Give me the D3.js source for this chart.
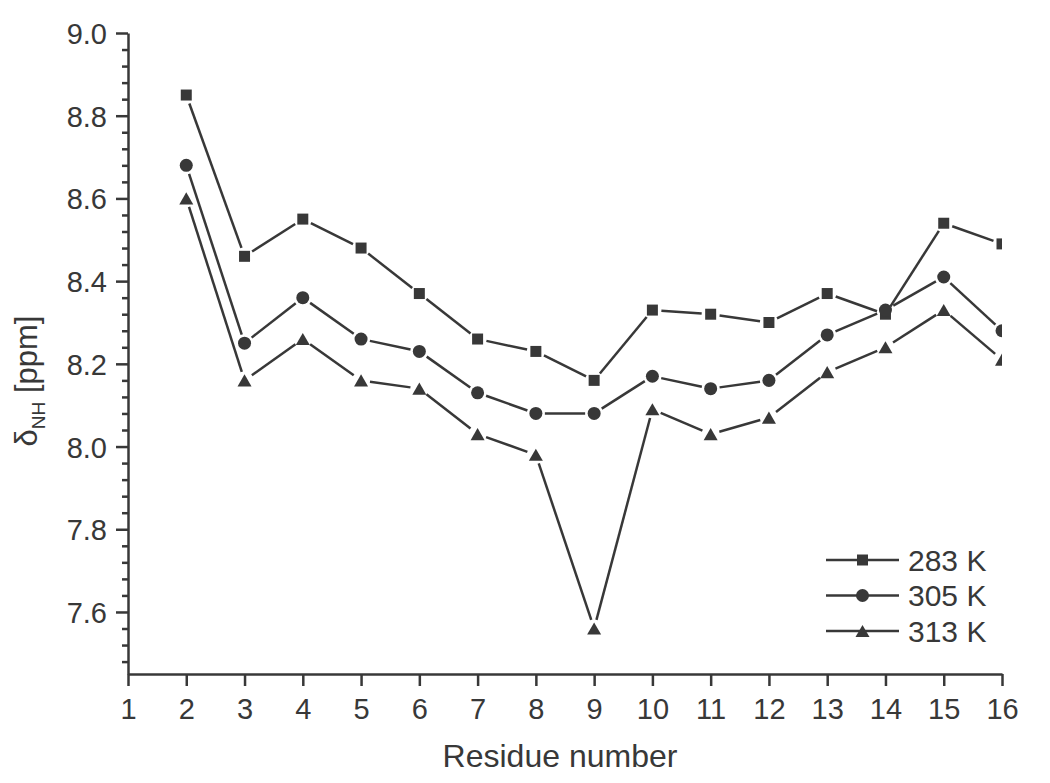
<!DOCTYPE html>
<html>
<head>
<meta charset="utf-8">
<script src="https://cdn.jsdelivr.net/npm/d3@7"></script>
<style>
  body { margin: 0; background: #fff; }
  svg { display: block; font-family: "Liberation Sans", Arial, sans-serif; }
</style>
</head>
<body>
<div id="chart"></div>
<script>
// residue numbers and chemical shifts (ppm) at three temperatures
const residues = [2, 3, 4, 5, 6, 7, 8, 9, 10, 11, 12, 13, 14, 15, 16];
const shift283 = [8.85, 8.46, 8.55, 8.48, 8.37, 8.26, 8.23, 8.16, 8.33, 8.32, 8.30, 8.37, 8.32, 8.54, 8.49];
const shift305 = [8.68, 8.25, 8.36, 8.26, 8.23, 8.13, 8.08, 8.08, 8.17, 8.14, 8.16, 8.27, 8.33, 8.41, 8.28];
const shift313 = [8.60, 8.16, 8.26, 8.16, 8.14, 8.03, 7.98, 7.56, 8.09, 8.03, 8.07, 8.18, 8.24, 8.33, 8.21];
const seriesNames = ["283 K", "305 K", "313 K"];
const xTicks = [1, 2, 3, 4, 5, 6, 7, 8, 9, 10, 11, 12, 13, 14, 15, 16];
const yTicks = [7.6, 7.8, 8.0, 8.2, 8.4, 8.6, 8.8, 9.0];

const ink = "#383838";
const margin = { top: 33, right: 48, bottom: 109, left: 128 };
const width = 1050 - margin.left - margin.right;
const height = 783 - margin.top - margin.bottom;

const x = d3.scaleLinear().domain([1, 16]).range([0, width]);
const y = d3.scaleLinear().domain([7.45, 9.0]).range([height, 0]);

const svg = d3.select("#chart")
  .append("svg")
  .attr("width", 1050)
  .attr("height", 783)
  .append("g")
  .attr("transform", "translate(" + margin.left + "," + margin.top + ")");

svg.append("clipPath")
  .attr("id", "plotclip")
  .append("rect")
  .attr("x", 0)
  .attr("y", -20)
  .attr("width", width)
  .attr("height", height + 20);

// minor y ticks every 0.04
const minorY = d3.range(7.48, 9.0, 0.04).filter(v => Math.abs(Math.round(v * 5) - v * 5) > 0.01);

const yMinor = svg.append("g")
  .call(d3.axisLeft(y).tickValues(minorY).tickSize(6).tickFormat(""));
yMinor.select(".domain").remove();
yMinor.selectAll("line").attr("stroke", ink).attr("stroke-width", 2.5);

const yAxis = svg.append("g")
  .call(d3.axisLeft(y).tickValues(yTicks).tickSize(12).tickSizeOuter(0).tickPadding(9).tickFormat(d3.format(".1f")));
yAxis.select(".domain").attr("stroke", ink).attr("stroke-width", 2.5);
yAxis.selectAll("line").attr("stroke", ink).attr("stroke-width", 2.5);
yAxis.selectAll("text")
  .attr("fill", ink)
  .style("font-size", "29px")
  .attr("dy", "0.36em");

const xAxis = svg.append("g")
  .attr("transform", "translate(0," + height + ")")
  .call(d3.axisBottom(x).tickValues(xTicks).tickSize(12).tickSizeOuter(0).tickPadding(9).tickFormat(d3.format("d")));
xAxis.select(".domain").attr("stroke", ink).attr("stroke-width", 2.5);
xAxis.selectAll("line").attr("stroke", ink).attr("stroke-width", 2.5);
xAxis.selectAll("text")
  .attr("fill", ink)
  .style("font-size", "29px")
  .attr("dy", "0.82em");

svg.append("text")
  .attr("x", width / 2 - 5)
  .attr("y", height + 93)
  .attr("text-anchor", "middle")
  .attr("fill", ink)
  .style("font-size", "32px")
  .text("Residue number");

const yTitle = svg.append("text")
  .attr("transform", "translate(" + (37 - margin.left) + "," + 348 + ") rotate(-90)")
  .attr("text-anchor", "middle")
  .attr("fill", ink)
  .style("font-size", "31px");
yTitle.append("tspan").text("δ");
yTitle.append("tspan").attr("dy", 8).style("font-size", "19px").text("NH");
yTitle.append("tspan").attr("dy", -8).text(" [ppm]");

const symbols = [
  d3.symbol().type(d3.symbolSquare).size(121),
  d3.symbol().type(d3.symbolCircle).size(133),
  d3.symbol().type(d3.symbolTriangle).size(85)
];
const symbolShift = [0, 0, 2];

const series = [shift283, shift305, shift313].map((vals, i) => ({
  name: seriesNames[i],
  points: residues.map((r, j) => ({ r: r, v: vals[j] }))
}));

const plot = svg.append("g").attr("clip-path", "url(#plotclip)");
const gap = 9;

series.forEach((s, i) => {
  const segs = d3.pairs(s.points).map(([a, b]) => {
    const x0 = x(a.r), y0 = y(a.v), x1 = x(b.r), y1 = y(b.v);
    const len = Math.hypot(x1 - x0, y1 - y0);
    const ux = (x1 - x0) / len, uy = (y1 - y0) / len;
    return { x0: x0 + ux * gap, y0: y0 + uy * gap, x1: x1 - ux * gap, y1: y1 - uy * gap };
  });

  plot.selectAll(".seg" + i)
    .data(segs)
    .enter()
    .append("line")
    .attr("x1", d => d.x0)
    .attr("y1", d => d.y0)
    .attr("x2", d => d.x1)
    .attr("y2", d => d.y1)
    .attr("stroke", ink)
    .attr("stroke-width", 2.5);

  plot.selectAll(".mark" + i)
    .data(s.points)
    .enter()
    .append("path")
    .attr("d", symbols[i]())
    .attr("transform", d => "translate(" + x(d.r) + "," + (y(d.v) + symbolShift[i]) + ")")
    .attr("fill", ink);
});

// legend
const legend = svg.append("g").attr("transform", "translate(" + (826 - margin.left) + "," + (560 - margin.top) + ")");
series.forEach((s, i) => {
  const row = legend.append("g").attr("transform", "translate(0," + i * 35.5 + ")");
  row.append("line")
    .attr("x1", 0)
    .attr("x2", 73)
    .attr("stroke", ink)
    .attr("stroke-width", 2.5);
  row.append("path")
    .attr("d", symbols[i]())
    .attr("transform", "translate(36.5," + symbolShift[i] + ")")
    .attr("fill", ink);
  row.append("text")
    .attr("x", 82)
    .attr("dy", "0.36em")
    .attr("fill", ink)
    .style("font-size", "30px")
    .text(s.name);
});
</script>
</body>
</html>
